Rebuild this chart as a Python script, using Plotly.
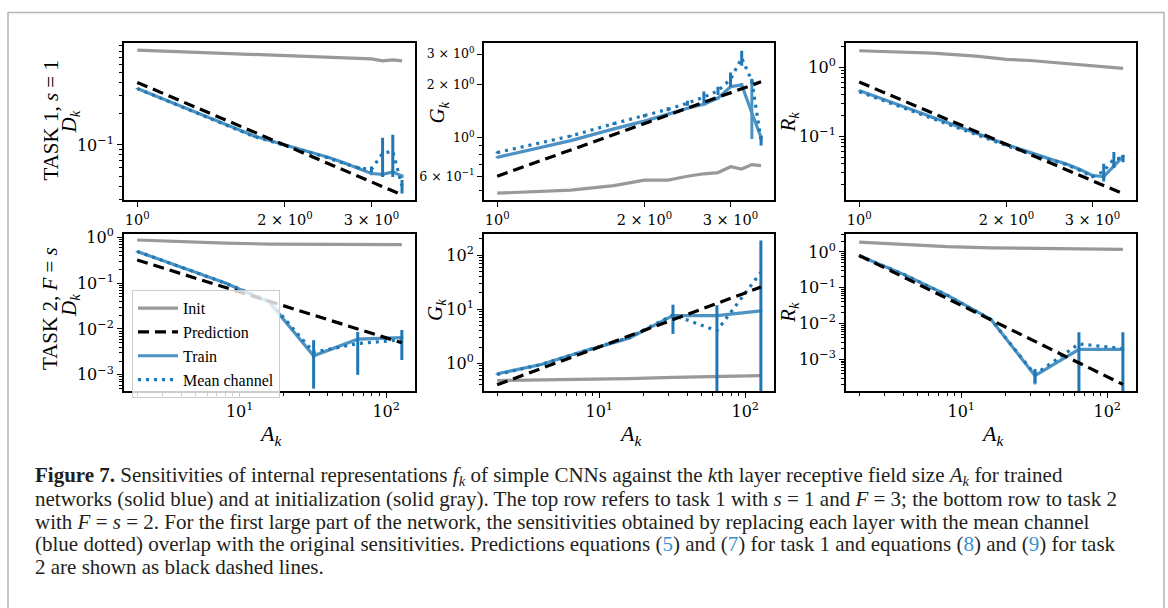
import plotly.graph_objects as go

# ---------------- data ----------------
x_top = [1.0, 1.414, 1.732, 2.0, 2.236, 2.449, 2.646, 2.828, 3.0, 3.162, 3.317, 3.464]
x_bot = [2, 4, 8, 16, 32, 64, 128]

# Task 1 (top row)
d1_init = [0.82, 0.77, 0.735, 0.715, 0.705, 0.70, 0.69, 0.68, 0.675, 0.645, 0.66, 0.645]
d1_pred = [0.40, 0.20, 0.133, 0.10, 0.08, 0.067, 0.057, 0.05, 0.044, 0.04, 0.036, 0.033]
d1_train = [0.35, 0.18, 0.122, 0.10, 0.086, 0.076, 0.067, 0.059, 0.053, 0.052, 0.055, 0.05]
d1_train_err = [0.002, 0.001, 0.001, 0.001, 0.001, 0.001, 0.001, 0.001, 0.002, 0.002, 0.002, 0.002]
d1_mean = [0.35, 0.18, 0.12, 0.099, 0.085, 0.075, 0.066, 0.06, 0.058, 0.083, 0.087, 0.04]
d1_mean_err = [0.003, 0.002, 0.002, 0.001, 0.001, 0.001, 0.001, 0.002, 0.004, 0.034, 0.038, 0.006]

g1_init = [0.48, 0.50, 0.53, 0.57, 0.57, 0.60, 0.62, 0.63, 0.68, 0.66, 0.70, 0.69]
g1_pred = [0.60, 0.85, 1.04, 1.20, 1.34, 1.47, 1.59, 1.70, 1.80, 1.90, 1.99, 2.08]
g1_train = [0.77, 0.96, 1.12, 1.24, 1.36, 1.47, 1.55, 1.68, 1.95, 2.0, 1.38, 1.0]
g1_train_up = [0.01, 0.01, 0.01, 0.02, 0.02, 0.02, 0.03, 0.03, 0.04, 0.05, 0.79, 0.03]
g1_train_dn = [0.01, 0.01, 0.01, 0.02, 0.02, 0.02, 0.03, 0.03, 0.04, 0.05, 0.40, 0.03]
g1_mean = [0.82, 1.02, 1.20, 1.33, 1.45, 1.57, 1.70, 1.85, 2.15, 2.85, 2.10, 0.96]
g1_mean_err = [0.01, 0.01, 0.02, 0.03, 0.04, 0.05, 0.13, 0.10, 0.20, 0.28, 0.05, 0.06]

r1_init = [1.73, 1.60, 1.45, 1.30, 1.25, 1.18, 1.12, 1.08, 1.03, 1.00, 0.99, 0.96]
r1_pred = [0.61, 0.216, 0.117, 0.076, 0.055, 0.0415, 0.033, 0.027, 0.0226, 0.0193, 0.0167, 0.0147]
r1_train = [0.46, 0.19, 0.111, 0.076, 0.058, 0.047, 0.04, 0.033, 0.027, 0.026, 0.037, 0.051]
r1_train_err = [0.003, 0.002, 0.001, 0.001, 0.001, 0.001, 0.001, 0.001, 0.001, 0.002, 0.002, 0.002]
r1_mean = [0.44, 0.18, 0.105, 0.073, 0.056, 0.046, 0.039, 0.032, 0.026, 0.031, 0.047, 0.048]
r1_mean_err = [0.004, 0.002, 0.001, 0.001, 0.001, 0.001, 0.001, 0.001, 0.001, 0.009, 0.012, 0.006]

# Task 2 (bottom row)
d2_init = [0.87, 0.80, 0.74, 0.71, 0.70, 0.70, 0.69]
d2_pred = [0.32, 0.16, 0.08, 0.04, 0.02, 0.01, 0.005]
d2_train = [0.49, 0.22, 0.10, 0.038, 0.0026, 0.006, 0.0065]
d2_train_err = [0.005, 0.003, 0.002, 0.001, 0.0003, 0.0004, 0.0004]
d2_mean = [0.49, 0.22, 0.10, 0.040, 0.0031, 0.0048, 0.0058]
d2_mean_err = [0.01, 0.005, 0.003, 0.002, 0.0026, 0.0038, 0.0037]

g2_init = [0.48, 0.49, 0.50, 0.52, 0.55, 0.57, 0.59]
g2_pred = [0.4, 0.8, 1.6, 3.2, 6.4, 12.8, 25.6]
g2_train = [0.64, 0.95, 1.7, 2.9, 7.6, 7.6, 9.3]
g2_train_err = [0.01, 0.02, 0.03, 0.05, 0.3, 0.3, 0.4]
g2_mean = [0.62, 0.95, 1.7, 3.0, 7.8, 4.0, 48.0]
g2_mean_err = [0.01, 0.02, 0.05, 0.10, 4.3, 7.8, 138.0]

r2_init = [1.87, 1.60, 1.40, 1.30, 1.25, 1.20, 1.18]
r2_pred = [0.8, 0.2, 0.05, 0.0125, 0.0031, 0.00078, 0.0002]
r2_train = [0.78, 0.24, 0.062, 0.013, 0.00035, 0.0019, 0.0019]
r2_train_err = [0.005, 0.002, 0.001, 0.0003, 0.00015, 0.0001, 0.0001]
r2_mean = [0.78, 0.24, 0.062, 0.013, 0.00038, 0.0027, 0.0020]
r2_mean_err = [0.005, 0.003, 0.001, 0.0005, 0.00016, 0.0030, 0.0037]

# tick labels
top_x_vals = [1, 2, 3]
top_x_text = ["10<sup>0</sup>", "2 × 10<sup>0</sup>", "3 × 10<sup>0</sup>"]
bot_x_vals = [10, 100]
bot_x_text = ["10<sup>1</sup>", "10<sup>2</sup>"]

# ---------------- styling ----------------
W, H = 1168, 608
FONT = "Liberation Serif"
TFONT = "DejaVu Serif"
C_INIT = "#999999"
C_TRAIN = "#4c92c3"
C_MEAN = "#1f77b4"
TICK_FS = 16

def px_x(p):
    return p / W

def px_y(p):
    return 1 - p / H

cols = [(124, 415), (484, 774), (846, 1136)]
rows = [(35.5, 195), (229, 388)]

def minor_vals(lo_exp, hi_exp):
    out = []
    for e in range(lo_exp, hi_exp + 1):
        for m in range(2, 10):
            out.append(m * 10.0 ** e)
    return out

def major_log(exps):
    vals = [10.0 ** e for e in exps]
    txt = ["10<sup>%s</sup>" % (str(e).replace("-", "−")) for e in exps]
    return vals, txt

d1_yv, d1_yt = major_log([-1])
g1_yv = [0.6, 1, 2, 3]
g1_yt = ["6 × 10<sup>−1</sup>", "10<sup>0</sup>", "2 × 10<sup>0</sup>", "3 × 10<sup>0</sup>"]
r1_yv, r1_yt = major_log([-1, 0])
d2_yv, d2_yt = major_log([-3, -2, -1, 0])
g2_yv, g2_yt = major_log([0, 1, 2])
r2_yv, r2_yt = major_log([-3, -2, -1, 0])

panels = [
    dict(r=0, c=0, x=x_top, init=d1_init, pred=d1_pred, tr=d1_train, tr_up=d1_train_err, tr_dn=d1_train_err,
         mn=d1_mean, mn_err=d1_mean_err, yr=[-1.535, -0.018], yv=d1_yv, yt=d1_yt,
         ym=[v for v in minor_vals(-2, -1) if 0.029 < v < 0.96], yfs=TICK_FS),
    dict(r=0, c=1, x=x_top, init=g1_init, pred=g1_pred, tr=g1_train, tr_up=g1_train_up, tr_dn=g1_train_dn,
         mn=g1_mean, mn_err=g1_mean_err, yr=[-0.36, 0.54], yv=g1_yv, yt=g1_yt,
         ym=[0.5, 0.7, 0.8, 0.9], yfs=12.5),
    dict(r=0, c=2, x=x_top, init=r1_init, pred=r1_pred, tr=r1_train, tr_up=r1_train_err, tr_dn=r1_train_err,
         mn=r1_mean, mn_err=r1_mean_err, yr=[-1.93, 0.35], yv=r1_yv, yt=r1_yt,
         ym=[v for v in minor_vals(-2, 0) if 0.0118 < v < 2.2], yfs=TICK_FS),
    dict(r=1, c=0, x=x_bot, init=d2_init, pred=d2_pred, tr=d2_train, tr_up=d2_train_err, tr_dn=d2_train_err,
         mn=d2_mean, mn_err=d2_mean_err, yr=[-3.35, 0.07], yv=d2_yv, yt=d2_yt,
         ym=[v for v in minor_vals(-4, -1) if 0.00045 < v < 1.1], yfs=TICK_FS),
    dict(r=1, c=1, x=x_bot, init=g2_init, pred=g2_pred, tr=g2_train, tr_up=g2_train_err, tr_dn=g2_train_err,
         mn=g2_mean, mn_err=g2_mean_err, yr=[-0.51, 2.39], yv=g2_yv, yt=g2_yt,
         ym=[v for v in minor_vals(-1, 2) if 0.31 < v < 245], yfs=TICK_FS),
    dict(r=1, c=2, x=x_bot, init=r2_init, pred=r2_pred, tr=r2_train, tr_up=r2_train_err, tr_dn=r2_train_err,
         mn=r2_mean, mn_err=r2_mean_err, yr=[-3.88, 0.5], yv=r2_yv, yt=r2_yt,
         ym=[v for v in minor_vals(-4, 0) if 0.00013 < v < 3.1], yfs=TICK_FS),
]

fig = go.Figure()
layout = dict(width=W, height=H, autosize=False,
              margin=dict(l=0, r=0, t=0, b=0),
              paper_bgcolor="white", plot_bgcolor="white",
              font=dict(family=FONT, color="black"))

for i, p in enumerate(panels):
    n = i + 1
    xa = "x" if n == 1 else "x%d" % n
    ya = "y" if n == 1 else "y%d" % n
    xkey = "xaxis" if n == 1 else "xaxis%d" % n
    ykey = "yaxis" if n == 1 else "yaxis%d" % n
    c0, c1 = cols[p["c"]]
    r0, r1 = rows[p["r"]]
    if p["r"] == 0:
        xr, xv, xt, xm, xfs = [-0.027, 0.566], top_x_vals, top_x_text, [], 14.5
    else:
        xr, xv, xt, xm, xfs = [0.211, 2.197], bot_x_vals, bot_x_text, [v for v in minor_vals(0, 1) if v < 157], TICK_FS
    common = dict(type="log", showgrid=False, zeroline=False,
                  showline=True, linecolor="black", linewidth=2, mirror=True,
                  ticks="outside", ticklen=5, tickwidth=1.3, tickcolor="black",
                  tickmode="array")
    layout[xkey] = dict(common, domain=[px_x(c0), px_x(c1)], range=xr, anchor=ya,
                        tickvals=xv, ticktext=xt,
                        tickfont=dict(family=TFONT, size=xfs, color="black"),
                        minor=dict(tickmode="array", tickvals=xm, ticks="outside",
                                   ticklen=3, tickwidth=1, tickcolor="black", showgrid=False))
    layout[ykey] = dict(common, domain=[px_y(r1), px_y(r0)], range=p["yr"], anchor=xa,
                        tickvals=p["yv"], ticktext=p["yt"],
                        tickfont=dict(family=TFONT, size=p["yfs"], color="black"),
                        minor=dict(tickmode="array", tickvals=p["ym"], ticks="outside",
                                   ticklen=3, tickwidth=1, tickcolor="black", showgrid=False))
    show = (i == 3)
    fig.add_trace(go.Scatter(x=p["x"], y=p["init"], mode="lines", name="Init",
                             line=dict(color=C_INIT, width=3.2), xaxis=xa, yaxis=ya,
                             showlegend=show, legendrank=1))
    fig.add_trace(go.Scatter(x=p["x"], y=p["tr"], mode="lines", name="Train",
                             line=dict(color=C_TRAIN, width=3.2), xaxis=xa, yaxis=ya,
                             error_y=dict(type="data", array=p["tr_up"], arrayminus=p["tr_dn"],
                                          symmetric=False, color=C_TRAIN, thickness=3, width=0),
                             showlegend=show, legendrank=3))
    fig.add_trace(go.Scatter(x=p["x"], y=p["mn"], mode="lines", name="Mean channel",
                             line=dict(color=C_MEAN, width=3.2, dash="3px,5px"), xaxis=xa, yaxis=ya,
                             error_y=dict(type="data", array=p["mn_err"], color=C_MEAN,
                                          thickness=3, width=0),
                             showlegend=show, legendrank=4))
    fig.add_trace(go.Scatter(x=p["x"], y=p["pred"], mode="lines", name="Prediction",
                             line=dict(color="black", width=3.2, dash="11px,6px"), xaxis=xa, yaxis=ya,
                             showlegend=show, legendrank=2))

layout["legend"] = dict(x=px_x(132), y=px_y(286), xanchor="left", yanchor="top",
                        bgcolor="rgba(255,255,255,0.8)", bordercolor="#cccccc", borderwidth=1,
                        font=dict(family=FONT, size=16, color="black"),
                        itemwidth=40, tracegroupgap=0)

annotations = []

def ann(text, x, y, size, angle=0, xanchor="center", color="black"):
    annotations.append(dict(text=text, x=px_x(x), y=px_y(y), xref="paper", yref="paper",
                            showarrow=False, textangle=angle, xanchor=xanchor, yanchor="middle",
                            font=dict(family=FONT, size=size, color=color)))

# y-axis titles
ann("TASK 1, <i>s</i> = 1", 50, 114, 21, -90)
ann("<i>D<sub>k</sub></i>", 70, 116, 21, -90)
ann("TASK 2, <i>F</i> = <i>s</i>", 50, 305, 21, -90)
ann("<i>D<sub>k</sub></i>", 70, 302, 21, -90)
ann("<i>G<sub>k</sub></i>", 438, 106, 21, -90)
ann("<i>R<sub>k</sub></i>", 789, 116, 21, -90)
ann("<i>G<sub>k</sub></i>", 436, 306, 21, -90)
ann("<i>R<sub>k</sub></i>", 789, 309, 21, -90)
# x-axis titles
for cx in (270, 630, 992):
    ann("<i>A<sub>k</sub></i>", cx, 433, 22)

# caption
CAP = "#231f20"
BL = "#3a8fd0"
cap_lines = [
    "<b>Figure 7.</b> Sensitivities of internal representations <i>f<sub>k</sub></i> of simple CNNs against the <i>k</i>th layer receptive field size <i>A<sub>k</sub></i> for trained",
    "networks (solid blue) and at initialization (solid gray). The top row refers to task 1 with <i>s</i> = 1 and <i>F</i> = 3; the bottom row to task 2",
    "with <i>F</i> = <i>s</i> = 2. For the first large part of the network, the sensitivities obtained by replacing each layer with the mean channel",
    "(blue dotted) overlap with the original sensitivities. Predictions equations (<span style='color:%s'>5</span>) and (<span style='color:%s'>7</span>) for task 1 and equations (<span style='color:%s'>8</span>) and (<span style='color:%s'>9</span>) for task" % (BL, BL, BL, BL),
    "2 are shown as black dashed lines.",
]
for k, line in enumerate(cap_lines):
    ann(line, 33, 474 + k * 23.2, 21, 0, "left", CAP)

layout["annotations"] = annotations
layout["shapes"] = [dict(type="rect", xref="paper", yref="paper",
                         x0=px_x(8), x1=px_x(1164), y0=-0.05, y1=px_y(4.5),
                         line=dict(color="#b4b4b4", width=1.5), fillcolor="rgba(0,0,0,0)")]

fig.update_layout(**layout)
fig.write_html("out.html")
